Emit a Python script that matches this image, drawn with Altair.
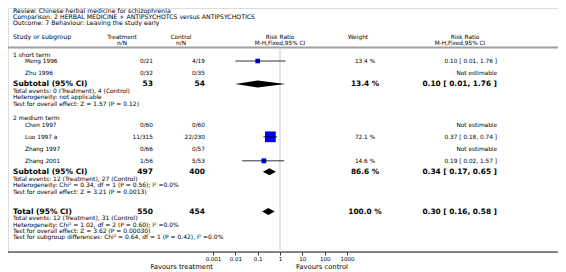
import altair as alt
import pandas as pd

# ---------------- data ----------------
title_lines = [
    "Review:  Chinese herbal medicine for schizophrenia",
    "Comparison:  2 HERBAL MEDICINE + ANTIPSYCHOTCS versus ANTIPSYCHOTICS",
    "Outcome:  7 Behaviour: Leaving the study early",
]
header_top = ["Study or subgroup", "Treatment", "Control", "Risk Ratio", "Weight", "Risk Ratio"]
header_sub = ["n/N", "n/N", "M-H,Fixed,95% CI", "M-H,Fixed,95% CI"]

group_names = ["1 short term", "2 medium term"]
studies = ["Meng 1996", "Zhu 1996", "Chen 1997", "Luo 1997 a", "Zhang 1997", "Zhang 2001"]
study_group = [0, 0, 1, 1, 1, 1]
treat_nN = ["0/21", "0/32", "0/60", "11/315", "0/66", "1/56"]
ctrl_nN = ["4/19", "0/35", "0/60", "22/230", "0/57", "5/53"]
weights = [13.4, None, None, 72.1, None, 14.6]
rr = [0.10, None, None, 0.37, None, 0.19]
rr_lo = [0.01, None, None, 0.18, None, 0.02]
rr_hi = [1.76, None, None, 0.74, None, 1.57]

sub_treat_N = [53, 497]
sub_ctrl_N = [54, 400]
sub_weight = [13.4, 86.6]
sub_rr = [0.10, 0.34]
sub_lo = [0.01, 0.17]
sub_hi = [1.76, 0.65]
sub_notes = [
    ["Total events: 0 (Treatment), 4 (Control)",
     "Heterogeneity: not applicable",
     "Test for overall effect: Z = 1.57 (P = 0.12)"],
    ["Total events: 12 (Treatment), 27 (Control)",
     "Heterogeneity: Chi² = 0.34, df = 1 (P = 0.56); I² =0.0%",
     "Test for overall effect: Z = 3.21 (P = 0.0013)"],
]
tot_treat_N = 550
tot_ctrl_N = 454
tot_weight = 100.0
tot_rr, tot_lo, tot_hi = 0.30, 0.16, 0.58
tot_notes = [
    "Total events: 12 (Treatment), 31 (Control)",
    "Heterogeneity: Chi² = 1.02, df = 2 (P = 0.60); I² =0.0%",
    "Test for overall effect: Z = 3.62 (P = 0.00030)",
    "Test for subgroup differences: Chi² = 0.64, df = 1 (P = 0.42), I² =0.0%",
]
axis_ticks = [0.001, 0.01, 0.1, 1, 10, 100, 1000]
favours = ["Favours treatment", "Favours control"]

# ---------------- layout (computed from structure) ----------------
FONT = "DejaVu Sans"
TITLE_Y0, TLINE, LINE = 11, 6, 6.4
HEAD_Y = 37
SEP_Y = 47.5
ROW = 12
AXIS_Y = 252

def fmt_ci(e, l, h):
    return f"{e:.2f} [ {l:.2f}, {h:.2f} ]"

titles = [{"text": t, "y": TITLE_Y0 + i * TLINE} for i, t in enumerate(title_lines)]

left_reg, study_lab, bold_lab = [], [], []
treat_reg, treat_bold, ctrl_reg, ctrl_bold = [], [], [], []
w_reg, w_bold, ci_reg, ci_bold = [], [], [], []
squares, diamonds = [], []

y = SEP_Y + 7
for g, gname in enumerate(group_names):
    left_reg.append({"text": gname, "y": y})
    y += 6.5
    first = True
    for i, s in enumerate(studies):
        if study_group[i] != g:
            continue
        if not first:
            y += ROW
        first = False
        study_lab.append({"text": s, "y": y})
        treat_reg.append({"text": treat_nN[i], "y": y})
        ctrl_reg.append({"text": ctrl_nN[i], "y": y})
        if rr[i] is None:
            ci_reg.append({"text": "Not estimable", "y": y})
        else:
            w_reg.append({"text": f"{weights[i]:.1f} %", "y": y})
            ci_reg.append({"text": fmt_ci(rr[i], rr_lo[i], rr_hi[i]), "y": y})
            squares.append({"y": y, "rr": rr[i], "lo": rr_lo[i], "hi": rr_hi[i], "w": weights[i]})
    y += 11
    bold_lab.append({"text": "Subtotal (95% CI)", "y": y})
    treat_bold.append({"text": str(sub_treat_N[g]), "y": y})
    ctrl_bold.append({"text": str(sub_ctrl_N[g]), "y": y})
    w_bold.append({"text": f"{sub_weight[g]:.1f} %", "y": y})
    ci_bold.append({"text": fmt_ci(sub_rr[g], sub_lo[g], sub_hi[g]), "y": y})
    diamonds.append((f"s{g}", y, sub_rr[g], sub_lo[g], sub_hi[g]))
    y += 7
    for j, n in enumerate(sub_notes[g]):
        left_reg.append({"text": n, "y": y + j * LINE})
    y += (len(sub_notes[g]) - 1) * LINE + 14.5

y += 5.5
bold_lab.append({"text": "Total (95% CI)", "y": y})
treat_bold.append({"text": str(tot_treat_N), "y": y})
ctrl_bold.append({"text": str(tot_ctrl_N), "y": y})
w_bold.append({"text": f"{tot_weight:.1f} %", "y": y})
ci_bold.append({"text": fmt_ci(tot_rr, tot_lo, tot_hi), "y": y})
diamonds.append(("tot", y, tot_rr, tot_lo, tot_hi))
y += 6.5
for j, n in enumerate(tot_notes):
    left_reg.append({"text": n, "y": y + j * LINE})

DH = 3.5
dia_rows = []
for name, yc, e, l, h in diamonds:
    dia_rows += [
        {"name": name, "x": l, "y": yc, "y2": yc},
        {"name": name, "x": e, "y": yc - DH, "y2": yc + DH},
        {"name": name, "x": h, "y": yc, "y2": yc},
    ]

YS = alt.Scale(domain=[8, AXIS_Y], range=[0, AXIS_Y - 8], nice=False, zero=False)
XS = alt.Scale(type="log", domain=[axis_ticks[0], axis_ticks[-1]], range=[205, 339], nice=False)
XAX = alt.Axis(
    values=axis_ticks, format="~g", domain=False, grid=False, ticks=True,
    tickSize=3, tickColor="black", tickWidth=0.8, labelFontSize=5.5,
    labelFont=FONT, labelColor="black", labelPadding=1, title=None,
    labelFlush=False, labelOverlap=False)


def text_layer(rows, x, align="left", size=6.0, bold=False):
    return alt.Chart(pd.DataFrame(rows)).mark_text(
        align=align, baseline="middle", fontSize=size, font=FONT,
        fontWeight="bold" if bold else "normal", color="black",
    ).encode(x=alt.value(x), y=alt.Y("y:Q", scale=YS, axis=None), text="text:N")


COLS = {"left": 5, "study": 17, "treat": 145, "ctrl": 197, "rrh": 272,
        "weight": 357, "ci": 489}
head_x = [(COLS["left"], "left"), (114, "center"), (173, "center"),
          (COLS["rrh"], "center"), (350, "center"), (457, "center")]
head_size = [6.3, 5.8, 5.8, 5.8, 5.8, 5.8]
sub_x = [114, 173, COLS["rrh"], 452]

layers = []
layers.append(text_layer(titles, COLS["left"], size=6.2))
for (hx, al), t, sz in zip(head_x, header_top, head_size):
    layers.append(text_layer([{"text": t, "y": HEAD_Y}], hx, align=al, size=sz))
for hx, t in zip(sub_x, header_sub):
    layers.append(text_layer([{"text": t, "y": HEAD_Y + LINE}], hx, align="center", size=5.8))

# separators / reference lines
sep_df = pd.DataFrame({"y": [SEP_Y]})
layers.append(alt.Chart(sep_df).mark_rule(color="#a0a0a0", strokeWidth=2).encode(
    x=alt.value(0), x2=alt.value(550), y=alt.Y("y:Q", scale=YS, axis=None)))
ref_df = pd.DataFrame({"x": [1.0], "y": [SEP_Y + 1], "y2": [AXIS_Y - 2]})
layers.append(alt.Chart(ref_df).mark_rule(color="#dcdcdc", strokeWidth=1.6).encode(
    x=alt.X("x:Q", scale=XS, axis=XAX),
    y=alt.Y("y:Q", scale=YS, axis=None), y2="y2:Q"))
ax_df = pd.DataFrame({"y": [AXIS_Y]})
layers.append(alt.Chart(ax_df).mark_rule(color="black", strokeWidth=0.9).encode(
    x=alt.value(0), x2=alt.value(550), y=alt.Y("y:Q", scale=YS, axis=None)))

# text columns
layers.append(text_layer(left_reg, COLS["left"], size=6.0))
layers.append(text_layer(study_lab, COLS["study"], size=5.8))
layers.append(text_layer(bold_lab, COLS["left"], size=7.5, bold=True))
layers.append(text_layer(treat_reg, COLS["treat"], align="right", size=5.8))
layers.append(text_layer(treat_bold, COLS["treat"], align="right", size=7.5, bold=True))
layers.append(text_layer(ctrl_reg, COLS["ctrl"], align="right", size=5.8))
layers.append(text_layer(ctrl_bold, COLS["ctrl"], align="right", size=7.5, bold=True))
layers.append(text_layer(w_reg, COLS["weight"], align="center", size=5.8))
layers.append(text_layer(w_bold, COLS["weight"], align="center", size=7.4, bold=True))
layers.append(text_layer(ci_reg, COLS["ci"], align="right", size=5.8))
layers.append(text_layer(ci_bold, COLS["ci"], align="right", size=7.4, bold=True))

# forest marks
sq_df = pd.DataFrame(squares)
layers.append(alt.Chart(sq_df).mark_square(filled=True, color="#0000ff", opacity=1).encode(
    x=alt.X("rr:Q", scale=XS, axis=XAX), y=alt.Y("y:Q", scale=YS, axis=None),
    size=alt.Size("w:Q", scale=alt.Scale(domain=[0, 100], range=[0, 160]), legend=None)))
layers.append(alt.Chart(sq_df).mark_rule(color="black", strokeWidth=0.8).encode(
    x=alt.X("lo:Q", scale=XS, axis=XAX), x2="hi:Q", y=alt.Y("y:Q", scale=YS, axis=None)))
layers.append(alt.Chart(pd.DataFrame(dia_rows)).mark_area(color="black", orient="vertical").encode(
    x=alt.X("x:Q", scale=XS, axis=XAX), y=alt.Y("y:Q", scale=YS, axis=None), y2="y2:Q",
    detail="name:N"))

# favours labels
fav_y = AXIS_Y + 15
layers.append(text_layer([{"text": favours[0], "y": fav_y}], 205, align="right", size=6.8))
layers.append(text_layer([{"text": favours[1], "y": fav_y}], 288, align="left", size=6.8))

chart = alt.layer(*layers).properties(
    width=550, height=AXIS_Y - 8,
    autosize=alt.AutoSizeParams(type="none"),
    padding={"left": 0, "top": 0, "right": 0, "bottom": 20},
).configure_view(stroke=None).configure(background="white")

chart.save("out.html", embed_options={"renderer": "svg", "actions": False})
